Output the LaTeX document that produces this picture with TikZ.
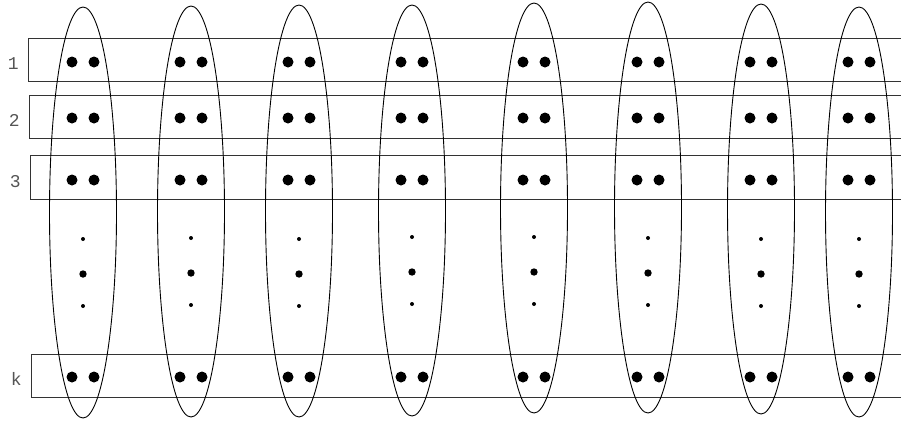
\documentclass[tikz,border=0pt]{standalone}
\usepackage{fontspec}
\newfontfamily\labelfont{Liberation Mono}
\usetikzlibrary{shapes.geometric, positioning}
\definecolor{lblgray}{HTML}{555555}
\definecolor{boxline}{HTML}{333333}

\begin{document}
\begin{tikzpicture}[x=1pt, y=-1pt,
  rowbox/.style={draw=boxline, line width=0.9pt, rectangle, anchor=north west,
                 inner sep=0pt, minimum width=900pt},
  group/.style={draw, line width=0.9pt, ellipse, inner sep=0pt, minimum width=67pt},
  rowlabel/.style={text=lblgray, font=\labelfont\fontsize{18}{18}\selectfont, inner sep=0pt}]

% Frame (rows run off the right edge)
\useasboundingbox (0,0) rectangle (901,424);
\clip (0,0) rectangle (901,424);

% Rows
\node[rowbox, minimum height=43pt] (r1) at (28,38) {};
\node[rowbox, minimum height=43pt] (r2) at (29,95) {};
\node[rowbox, minimum height=44pt] (r3) at (30,155) {};
\node[rowbox, minimum height=43pt] (rk) at (31,354) {};

% Row labels
\node[rowlabel, left=9pt of r1.west, yshift=-4pt] (l1) {1};
\node[rowlabel, left=9pt of r2.west, yshift=-4pt] (l2) {2};
\node[rowlabel, left=9pt of r3.west, yshift=-4pt] (l3) {3};
\node[rowlabel, left=9pt of rk.west, yshift=-3pt] (lk) {k};

% Groups (tall ellipses) with their dots
\foreach \cx/\cy/\h/\my [count=\i] in {83/212.5/411/239, 191/211.5/411/238,
    299/211/412/239, 412/210.5/411/237, 534/208/410/237, 648/207.5/411/238,
    761/209/410/239, 859/212/410/239} {
  \node[group, minimum height=\h pt] (e\i) at (\cx,\cy) {};
  \foreach \ry in {62,118,180,377} {
    \fill (\cx-11,\ry) circle (5.5pt);
    \fill (\cx+11,\ry) circle (5.5pt);
  }
  % vertical ellipsis
  \fill (\cx,\my) circle (2pt);
  \fill (\cx,\my+35) circle (3.7pt);
  \fill (\cx,\my+67) circle (2pt);
}

\end{tikzpicture}
\end{document}
